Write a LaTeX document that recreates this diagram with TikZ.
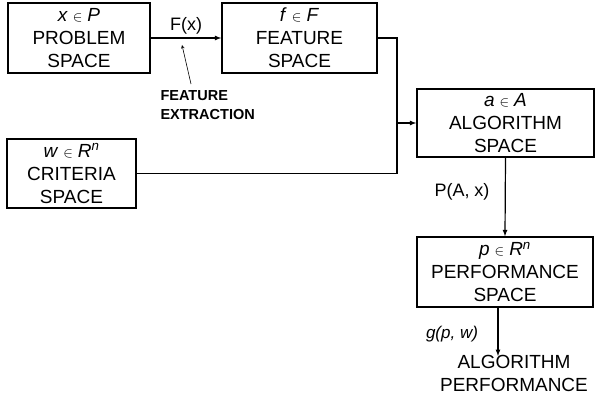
\documentclass[tikz,border=0pt]{standalone}
\usepackage{fontspec}
\setmainfont{Liberation Sans}
\usepackage{tikz}
\usetikzlibrary{positioning,calc,arrows}

\tikzset{
  spacebox/.style={draw, line width=1.4pt, align=center, inner sep=0pt,
    minimum height=70pt, font=\fontsize{19}{23}\selectfont},
  conn/.style={line width=1.2pt},
  tip/.style={-latex, line width=1.2pt}
}
\newcommand{\elem}{\hspace{5pt}{\fontsize{15}{15}\selectfont$\in$}\hspace{5pt}}

\begin{document}
\begin{tikzpicture}[x=1pt,y=-1pt]
\useasboundingbox (0,0) rectangle (595,396);

%boxes
\node[spacebox, minimum width=142pt] (prob) at (79,38) {\textit{x}\elem\textit{P}\\PROBLEM\\SPACE};
\node[spacebox, minimum width=155pt] (feat) at (299.5,38) {\textit{f}\elem\textit{F}\\FEATURE\\SPACE};
\node[spacebox, minimum width=129pt, minimum height=69pt] (crit) at (71.5,173.5) {\textit{w}\elem\textit{R\textsuperscript{n}}\\CRITERIA\\SPACE};
\node[spacebox, minimum width=177pt, minimum height=68pt] (alg) at (505.5,123) {\textit{a}\elem\textit{A}\\ALGORITHM\\SPACE};
\node[spacebox, minimum width=176pt] (perf) at (505,272) {\textit{p}\elem\textit{R\textsuperscript{n}}\\PERFORMANCE\\SPACE};
\node[align=center, font=\fontsize{19}{23}\selectfont] (out) at (514,373) {ALGORITHM\\PERFORMANCE};

%joins
\coordinate (jn) at (397,123);
\coordinate (outtip) at (498,356);
\coordinate (fxtail) at (191,84);

%connectors
\draw[tip] (prob) -- node[above, font=\fontsize{18}{20}\selectfont] (fx) {F(x)} (feat);
\draw[-stealth, line width=0.6pt] (fxtail) -- (182,45);
\draw[conn] (feat.east) -| (jn);
\draw[conn] (crit.east) -| (jn);
\draw[tip] (jn) -- (alg.west);
\draw[tip] (alg.south) -- (perf.north);
\draw[tip] (perf.south -| outtip) -- (outtip);

%labels
\node[align=left, anchor=north west, font=\fontsize{14.5}{19}\selectfont\bfseries] (fe) at (157,87) {FEATURE\\EXTRACTION};
\node[font=\fontsize{18}{20}\selectfont] (pax) at (462,192) {P(A, x)};
\node[font=\fontsize{17}{20}\selectfont\itshape] (gpw) at (452,334) {g(p, w)};
\end{tikzpicture}
\end{document}
